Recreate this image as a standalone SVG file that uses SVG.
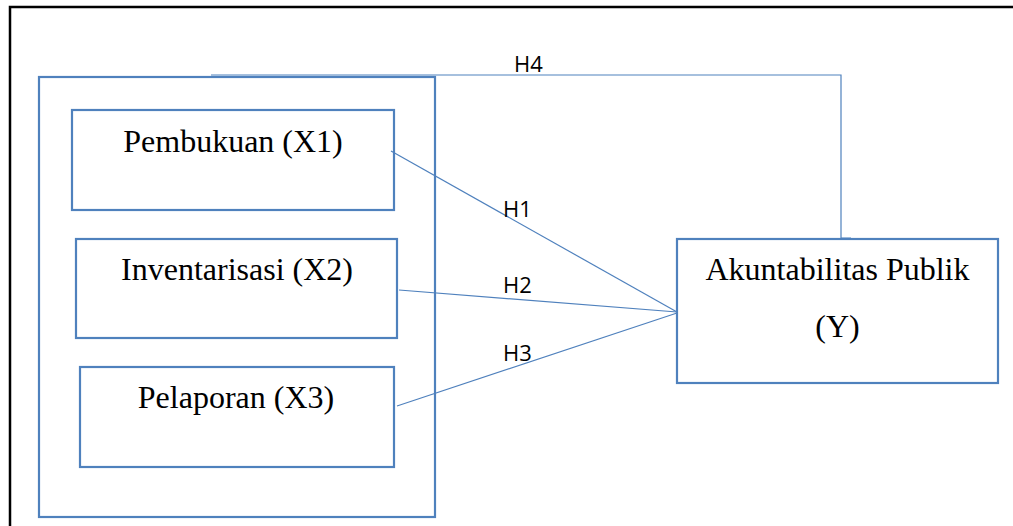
<svg xmlns="http://www.w3.org/2000/svg" width="1013" height="526" viewBox="0 0 1013 526">
<style>
.box{fill:#fff;stroke:#4F81BD;stroke-width:2.2}
.lbl{font-family:"Liberation Serif","Times New Roman",serif;font-size:32px;fill:#000;text-anchor:middle}
.h{font-family:"Open Sans","Liberation Sans",sans-serif;font-size:22px;fill:#000}
.con{fill:none;stroke:#4F81BD;stroke-width:1.2}
</style>
<rect width="1013" height="526" fill="#fff"/>
<path d="M10,526 V7 H1013" fill="none" stroke="#000" stroke-width="2.5"/>
<g id="group-x">
<rect class="box" x="39" y="77" width="396" height="440"/>
</g>
<g id="x1">
<rect class="box" x="72" y="110" width="322" height="100"/>
<text class="lbl" x="233" y="152">Pembukuan (X1)</text>
</g>
<g id="x2">
<rect class="box" x="76" y="239" width="321" height="99"/>
<text class="lbl" x="237" y="280">Inventarisasi (X2)</text>
</g>
<g id="x3">
<rect class="box" x="80" y="367" width="314" height="100"/>
<text class="lbl" x="236" y="408">Pelaporan (X3)</text>
</g>
<g id="y">
<rect class="box" x="677" y="239" width="321" height="144"/>
<text class="lbl" x="837.5" y="280">Akuntabilitas Publik</text>
<text class="lbl" x="837.5" y="337">(Y)</text>
</g>
<g id="connectors">
<path class="con" d="M211,75 H841 V238 H851"/>
<line class="con" x1="391" y1="151" x2="677" y2="312"/>
<line class="con" x1="399" y1="290" x2="677" y2="312"/>
<line class="con" x1="397" y1="406" x2="677" y2="313"/>
<text class="h" x="514" y="72">H4</text>
<text class="h" x="503" y="217">H1</text>
<text class="h" x="503" y="293">H2</text>
<text class="h" x="503" y="361">H3</text>
</g>
</svg>
